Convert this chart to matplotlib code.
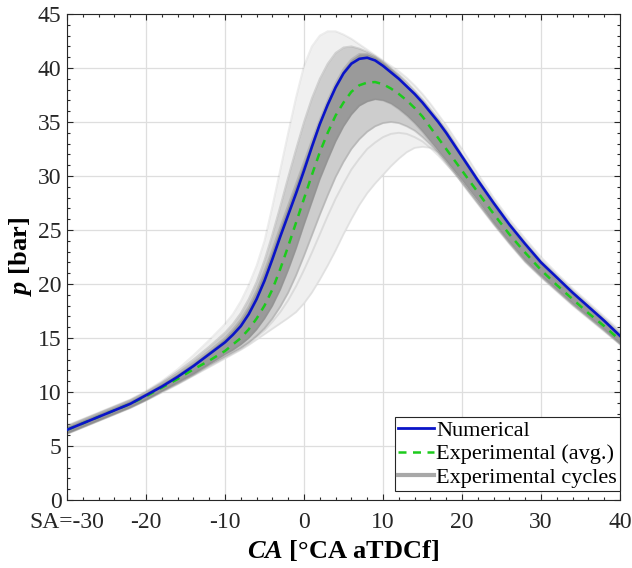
import matplotlib
matplotlib.use("Agg")
import matplotlib.pyplot as plt
from matplotlib.lines import Line2D
from matplotlib.ticker import MultipleLocator, FixedLocator

plt.rcParams['font.family'] = ['Liberation Serif', 'DejaVu Serif']
plt.rcParams['mathtext.fontset'] = 'custom'
plt.rcParams['mathtext.it'] = 'Liberation Serif:italic:bold'
plt.rcParams['mathtext.rm'] = 'Liberation Serif:bold'

# ---------------- data ----------------
crank_angle = [-30, -28, -26, -24, -22, -20, -18, -16, -14, -12,
               -10, -9, -8, -7, -6, -5, -4, -3, -2, -1,
               0, 1, 2, 3, 4, 5, 6, 7, 8, 9,
               10, 11, 12, 13, 14, 15, 16, 17, 18, 19,
               20, 22, 24, 26, 28, 30, 32, 34, 36, 38, 40]

p_numerical = [6.5, 7.1, 7.7, 8.3, 8.9, 9.7, 10.5, 11.4, 12.4, 13.5,
               14.6, 15.3, 16.1, 17.2, 18.6, 20.3, 22.3, 24.4, 26.4, 28.4,
               30.5, 32.7, 34.8, 36.6, 38.2, 39.5, 40.4, 40.85, 40.95, 40.7,
               40.2, 39.6, 39.0, 38.3, 37.6, 36.8, 35.9, 35.0, 34.0, 32.9,
               31.8, 29.6, 27.5, 25.5, 23.7, 22.0, 20.6, 19.2, 17.9, 16.6, 15.2]

p_exp_avg = [6.5, 7.1, 7.7, 8.3, 8.9, 9.6, 10.4, 11.2, 12.1, 12.9,
             13.8, 14.4, 15.0, 15.8, 16.8, 18.0, 19.5, 21.4, 23.5, 25.7,
             27.9, 30.1, 32.2, 34.0, 35.6, 36.8, 37.8, 38.4, 38.65, 38.7,
             38.5, 38.1, 37.6, 37.0, 36.3, 35.5, 34.5, 33.5, 32.5, 31.5,
             30.5, 28.5, 26.5, 24.6, 22.9, 21.3, 19.9, 18.6, 17.3, 16.1, 14.8]

# representative experimental cycles (fastest ... slowest)
cycle_fast = [6.9, 7.5, 8.1, 8.7, 9.3, 10.1, 11.0, 12.1, 13.4, 14.8,
              16.3, 17.2, 18.4, 19.9, 21.7, 24.0, 27.2, 30.6, 34.0, 37.3,
              40.2, 42.0, 43.0, 43.4, 43.4, 43.1, 42.7, 42.2, 41.7, 41.2,
              40.7, 40.2, 39.7, 39.1, 38.4, 37.6, 36.7, 35.7, 34.7, 33.6,
              32.5, 30.2, 28.0, 26.0, 24.2, 22.5, 21.0, 19.6, 18.3, 17.0, 15.7]

cycle_early = [6.85, 7.45, 8.05, 8.65, 9.25, 10.0, 10.9, 11.9, 13.0, 14.2,
               15.5, 16.3, 17.3, 18.6, 20.2, 22.2, 24.6, 27.2, 29.9, 32.5,
               35.0, 37.2, 39.0, 40.4, 41.4, 41.9, 42.0, 41.8, 41.5, 41.1,
               40.6, 40.0, 39.4, 38.7, 37.9, 37.1, 36.2, 35.3, 34.3, 33.2,
               32.0, 29.8, 27.7, 25.7, 23.9, 22.2, 20.8, 19.4, 18.1, 16.8, 15.5]

cycle_core_hi = [6.8, 7.4, 8.0, 8.6, 9.2, 9.95, 10.8, 11.7, 12.7, 13.8,
                 15.0, 15.8, 16.7, 17.9, 19.4, 21.2, 23.2, 25.3, 27.3, 29.3,
                 31.3, 33.3, 35.2, 37.0, 38.6, 39.9, 40.8, 41.3, 41.3, 41.0,
                 40.5, 39.9, 39.2, 38.4, 37.5, 36.7, 35.8, 34.9, 33.9, 32.8,
                 31.7, 29.4, 27.3, 25.3, 23.5, 21.9, 20.4, 19.1, 17.8, 16.5, 15.2]

cycle_core_lo = [6.2, 6.8, 7.4, 8.0, 8.6, 9.3, 10.1, 10.9, 11.7, 12.6,
                 13.5, 13.9, 14.4, 15.0, 15.8, 16.8, 18.0, 19.5, 21.3, 23.3,
                 25.5, 27.6, 29.7, 31.5, 33.2, 34.6, 35.7, 36.5, 36.9, 37.1,
                 37.0, 36.7, 36.2, 35.6, 34.9, 34.1, 33.2, 32.3, 31.4, 30.5,
                 29.6, 27.7, 25.7, 23.9, 22.2, 20.8, 19.5, 18.2, 17.0, 15.8, 14.5]

cycle_late = [6.15, 6.75, 7.35, 7.95, 8.55, 9.25, 10.05, 10.8, 11.6, 12.5,
              13.3, 13.7, 14.1, 14.6, 15.2, 15.9, 16.8, 17.9, 19.2, 20.8,
              22.6, 24.5, 26.4, 28.2, 29.9, 31.3, 32.5, 33.4, 34.1, 34.6,
              34.9, 35.0, 34.9, 34.6, 34.2, 33.6, 32.9, 32.1, 31.2, 30.3,
              29.4, 27.5, 25.6, 23.8, 22.1, 20.7, 19.4, 18.1, 16.9, 15.7, 14.45]

cycle_slow2 = [6.15, 6.75, 7.35, 7.95, 8.55, 9.25, 10.0, 10.75, 11.55, 12.4,
               13.2, 13.6, 14.0, 14.5, 15.1, 15.7, 16.5, 17.4, 18.5, 19.8,
               21.3, 22.9, 24.6, 26.3, 27.9, 29.3, 30.6, 31.6, 32.5, 33.1,
               33.6, 33.9, 34.0, 33.9, 33.6, 33.2, 32.6, 31.9, 31.1, 30.3,
               29.4, 27.5, 25.6, 23.8, 22.1, 20.7, 19.4, 18.1, 16.9, 15.7, 14.45]

cycle_slow = [6.1, 6.7, 7.3, 7.9, 8.5, 9.2, 9.95, 10.7, 11.5, 12.3,
              13.1, 13.5, 13.9, 14.35, 14.85, 15.35, 15.85, 16.35, 16.85, 17.4,
              18.2, 19.2, 20.4, 21.7, 23.1, 24.6, 26.0, 27.3, 28.4, 29.3,
              30.1, 30.9, 31.6, 32.2, 32.6, 32.7, 32.6, 32.2, 31.5, 30.6,
              29.3, 27.4, 25.5, 23.7, 22.0, 20.6, 19.3, 18.0, 16.8, 15.6, 14.4]

x_ticks = [-30, -20, -10, 0, 10, 20, 30, 40]
x_tick_labels = ['SA=-30', '-20', '-10', '0', '10', '20', '30', '40']
y_ticks = [0, 5, 10, 15, 20, 25, 30, 35, 40, 45]

legend_labels = ['Numerical', 'Experimental (avg.)', 'Experimental cycles']

# ---------------- figure ----------------
fig = plt.figure(figsize=(6.32, 5.68), dpi=100)
ax = fig.add_axes([67 / 632, 68 / 568, 553 / 632, 486 / 568])

# experimental cycle band
ax.fill_between(crank_angle, cycle_fast, cycle_slow, color='#f0f0f0', lw=0, zorder=1)
ax.fill_between(crank_angle, cycle_early, cycle_late, color='#cdcdcd', lw=0, zorder=1.1)
ax.fill_between(crank_angle, cycle_core_hi, cycle_core_lo, color='#9a9a9a', lw=0, zorder=1.2)
for cyc, a in [(cycle_fast, 0.15), (cycle_early, 0.3), (cycle_core_hi, 0.35),
               (cycle_core_lo, 0.35), (cycle_late, 0.3), (cycle_slow2, 0.2),
               (cycle_slow, 0.15)]:
    ax.plot(crank_angle, cyc, color='#8a8a8a', lw=1.4, alpha=a,
            solid_capstyle='round', zorder=1.5)

ax.plot(crank_angle, p_exp_avg, color='#1ccb1c', lw=1.8, ls=(0, (3.2, 2.6)), zorder=3)
ax.plot(crank_angle, p_numerical, color='#0a14c8', lw=1.9, zorder=4)

ax.set_xlim(-30, 40)
ax.set_ylim(0, 45)
ax.xaxis.set_major_locator(FixedLocator(x_ticks))
ax.set_xticklabels(x_tick_labels)
ax.yaxis.set_major_locator(FixedLocator(y_ticks))
ax.xaxis.set_minor_locator(MultipleLocator(2))
ax.yaxis.set_minor_locator(MultipleLocator(1))
ax.tick_params(which='both', direction='in', top=True, right=True,
               colors='#262626', labelcolor='#262626', width=0.8)
ax.tick_params(which='major', length=4, labelsize=17)
ax.tick_params(which='minor', length=2.2)
ax.tick_params(axis='x', which='major', pad=9)
ax.tick_params(axis='y', which='major', pad=4)
ax.grid(True, which='major', color='#dedede', lw=0.9)
ax.set_axisbelow(True)
for s in ax.spines.values():
    s.set_color('#262626')
    s.set_linewidth(0.8)

ax.set_xlabel(r'$\mathit{CA}$ [°CA aTDCf]', fontsize=19, fontweight='bold', labelpad=3)
ax.set_ylabel(r'$\mathit{p}$ [bar]', fontsize=19, fontweight='bold', labelpad=3)

handles = [Line2D([], [], color='#0a14c8', lw=2.0),
           Line2D([], [], color='#1ccb1c', lw=1.8, ls=(0, (3.2, 2.6))),
           Line2D([], [], color='#a8a8a8', lw=3.0)]
leg = ax.legend(handles, legend_labels, loc='lower right',
                bbox_to_anchor=(1.0, 9 / 486), borderaxespad=0,
                fontsize=16, handlelength=1.6, handletextpad=0.1,
                labelspacing=0.12, borderpad=0.15, fancybox=False,
                framealpha=1, edgecolor='#262626')
leg.get_frame().set_linewidth(0.8)

fig.savefig('out.png', dpi=100)
